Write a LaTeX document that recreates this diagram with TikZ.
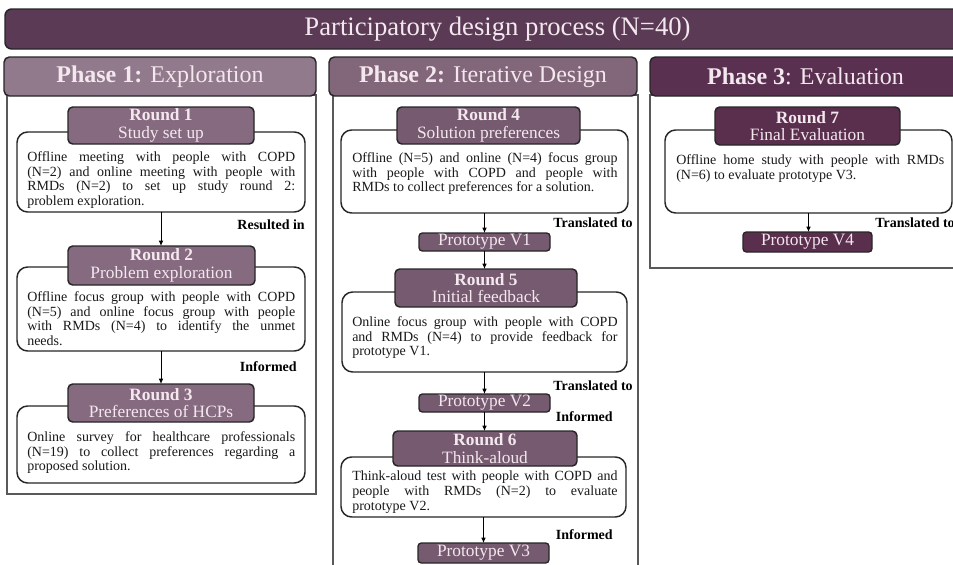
\documentclass[tikz,border=0pt]{standalone}
\usepackage{fontspec}
\setmainfont{Liberation Serif}
\usetikzlibrary{fit,arrows.meta}

\definecolor{plumdark}{HTML}{5A3A55}
\definecolor{phaseA}{HTML}{927A8D}
\definecolor{phaseB}{HTML}{826679}
\definecolor{phaseC}{HTML}{5A3050}
\definecolor{roundA}{HTML}{866B80}
\definecolor{roundB}{HTML}{765A70}
\definecolor{roundC}{HTML}{5A2F4E}
\definecolor{headtext}{HTML}{F4E8EF}

\tikzset{
  box/.style={inner sep=0pt, outer sep=0pt},
  titlebar/.style={box, fill=plumdark, draw=black!85, line width=1.1pt, rounded corners=5pt},
  titletext/.style={inner sep=0pt, text=headtext, font=\fontsize{20}{22}\selectfont},
  phasehead/.style={box, draw=black!85, line width=1.1pt, rounded corners=4pt},
  phasetext/.style={inner sep=0pt, text=headtext, font=\fontsize{18}{20}\selectfont},
  phasebox/.style={box, draw=black!65, line width=0.9pt},
  roundhead/.style={box, draw=black!85, line width=1.1pt, rounded corners=3.5pt},
  roundtext/.style={inner sep=0pt, text=headtext, align=center, font=\fontsize{13}{13.2}\selectfont},
  bodybox/.style={box, draw=black!85, fill=white, line width=1.1pt, rounded corners=8pt},
  bodytext/.style={inner sep=0pt, anchor=north west, align=justify,
    font=\fontsize{10.5}{11.2}\selectfont, text=black!90},
  proto/.style={box, draw=black!85, line width=1pt, rounded corners=2.5pt},
  prototext/.style={inner sep=0pt, text=headtext, font=\fontsize{13}{14}\selectfont},
  lbl/.style={inner sep=0pt, anchor=east, font=\bfseries\fontsize{10.5}{12}\selectfont},
  flow/.style={draw=black, line width=0.7pt, -{Latex[length=4pt,width=3.5pt]}}
}

\begin{document}
\begin{tikzpicture}[x=0.75pt,y=-0.75pt]
\useasboundingbox (0,0) rectangle (953,564);

% overall title
\node[titlebar, fit={(5,9)(990,49)},
  label={[titletext]center:Participatory design process (N=40)}] (title) {};

% phase frames
\node[phasebox, fit={(7,95)(316,494)}] (f1) {};
\node[phasebox, fit={(333,95)(638,590)}] (f2) {};
\node[phasebox, fit={(650,95)(965,268)}] (f3) {};

% phase headers
\node[phasehead, fill=phaseA, fit={(4,57)(316,96)},
  label={[phasetext]center:\textbf{Phase 1:} Exploration}] (ph1) {};
\node[phasehead, fill=phaseB, fit={(329,57)(637,96)},
  label={[phasetext]center:\textbf{Phase 2:} Iterative Design}] (ph2) {};
\node[phasehead, fill=phaseC, fit={(650,57)(961,96)},
  label={[phasetext]center:\textbf{Phase 3}: Evaluation}] (ph3) {};

% ---- Phase 1 ----
\node[bodybox, fit={(17,132)(305,212)}] (b1) {};
\node[bodybox, fit={(17,267)(305,351)}] (b2) {};
\node[bodybox, fit={(17,406)(305,483)}] (b3) {};
\node[roundhead, fill=roundA, fit={(68,107)(254,144)},
  label={[roundtext]center:\textbf{Round 1}\\Study set up}] (h1) {};
\node[roundhead, fill=roundA, fit={(68,246)(255,285)},
  label={[roundtext]center:\textbf{Round 2}\\Problem exploration}] (h2) {};
\node[roundhead, fill=roundA, fit={(68,384)(254,422)},
  label={[roundtext]center:\textbf{Round 3}\\Preferences of HCPs}] (h3) {};

\node[bodytext, text width=201pt] (t1) at (27,151)
  {Offline meeting with people with COPD\linebreak (N=2) and online meeting with people with\linebreak RMDs (N=2) to set up study round 2:\linebreak problem exploration.};
\node[bodytext, text width=201pt] (t2) at (27,291)
  {Offline focus group with people with COPD\linebreak (N=5) and online focus group with people\linebreak with RMDs (N=4) to identify the unmet\linebreak needs.};
\node[bodytext, text width=201pt] (t3) at (27,431)
  {Online survey for healthcare professionals\linebreak (N=19) to collect preferences regarding a\linebreak proposed solution.};

\draw[flow] (b1.south) -- (b1.south |- h2.north);
\draw[flow] (b2.south) -- (b2.south |- h3.north);
\node[lbl] (l1) at (305,225) {Resulted in};
\node[lbl] (l2) at (297,367) {Informed};

% ---- Phase 2 ----
\node[bodybox, fit={(341,130)(628,213)}] (b4) {};
\node[bodybox, fit={(342,292)(627,372)}] (b5) {};
\node[bodybox, fit={(341,457)(626,517)}] (b6) {};
\node[roundhead, fill=roundB, fit={(397,107)(580,144)},
  label={[roundtext]center:\textbf{Round 4}\\Solution preferences}] (h4) {};
\node[roundhead, fill=roundB, fit={(395,269)(577,307)},
  label={[roundtext]center:\textbf{Round 5}\\Initial feedback}] (h5) {};
\node[roundhead, fill=roundB, fit={(393,431)(577,466)},
  label={[roundtext]center:\textbf{Round 6}\\Think-aloud}] (h6) {};
\node[proto, fill=roundB, fit={(419,233)(550,251)},
  label={[prototext]center:Prototype V1}] (p1) {};
\node[proto, fill=roundB, fit={(419,394)(550,412)},
  label={[prototext]center:Prototype V2}] (p2) {};
\node[proto, fill=roundB, fit={(418,543)(549,563)},
  label={[prototext]center:Prototype V3}] (p3) {};

\node[bodytext, text width=199pt] (t4) at (352,152)
  {Offline (N=5) and online (N=4) focus group\linebreak with people with COPD and people with\linebreak RMDs to collect preferences for a solution.};
\node[bodytext, text width=199pt] (t5) at (352,316)
  {Online focus group with people with COPD\linebreak and RMDs (N=4) to provide feedback for\linebreak prototype V1.};
\node[bodytext, text width=199pt] (t6) at (352,471)
  {Think-aloud test with people with COPD and\linebreak people with RMDs (N=2) to evaluate\linebreak prototype V2.};

\draw[flow] (b4.south) -- (b4.south |- p1.north);
\draw[flow] (p1.south) -- (p1.south |- h5.north);
\draw[flow] (b5.south) -- (b5.south |- p2.north);
\draw[flow] (p2.south) -- (p2.south |- h6.north);
\draw[flow] (b6.south) -- (b6.south |- p3.north);
\node[lbl] (l3) at (633,223) {Translated to};
\node[lbl] (l4) at (633,386) {Translated to};
\node[lbl] (l5) at (613,417) {Informed};
\node[lbl] (l6) at (613,535) {Informed};

% ---- Phase 3 ----
\node[bodybox, fit={(665,130)(952,213)}] (b7) {};
\node[roundhead, fill=roundC, fit={(715,107)(900,145)},
  label={[roundtext]center:\textbf{Round 7}\\Final Evaluation}] (h7) {};
\node[proto, fill=roundC, fit={(743,232)(872,252)},
  label={[prototext]center:Prototype V4}] (p4) {};
\node[bodytext, text width=201pt] (t7) at (676,154)
  {Offline home study with people with RMDs\linebreak (N=6) to evaluate prototype V3.};
\draw[flow] (b7.south) -- (b7.south |- p4.north);
\node[lbl] (l7) at (955,223) {Translated to};

\end{tikzpicture}
\end{document}
